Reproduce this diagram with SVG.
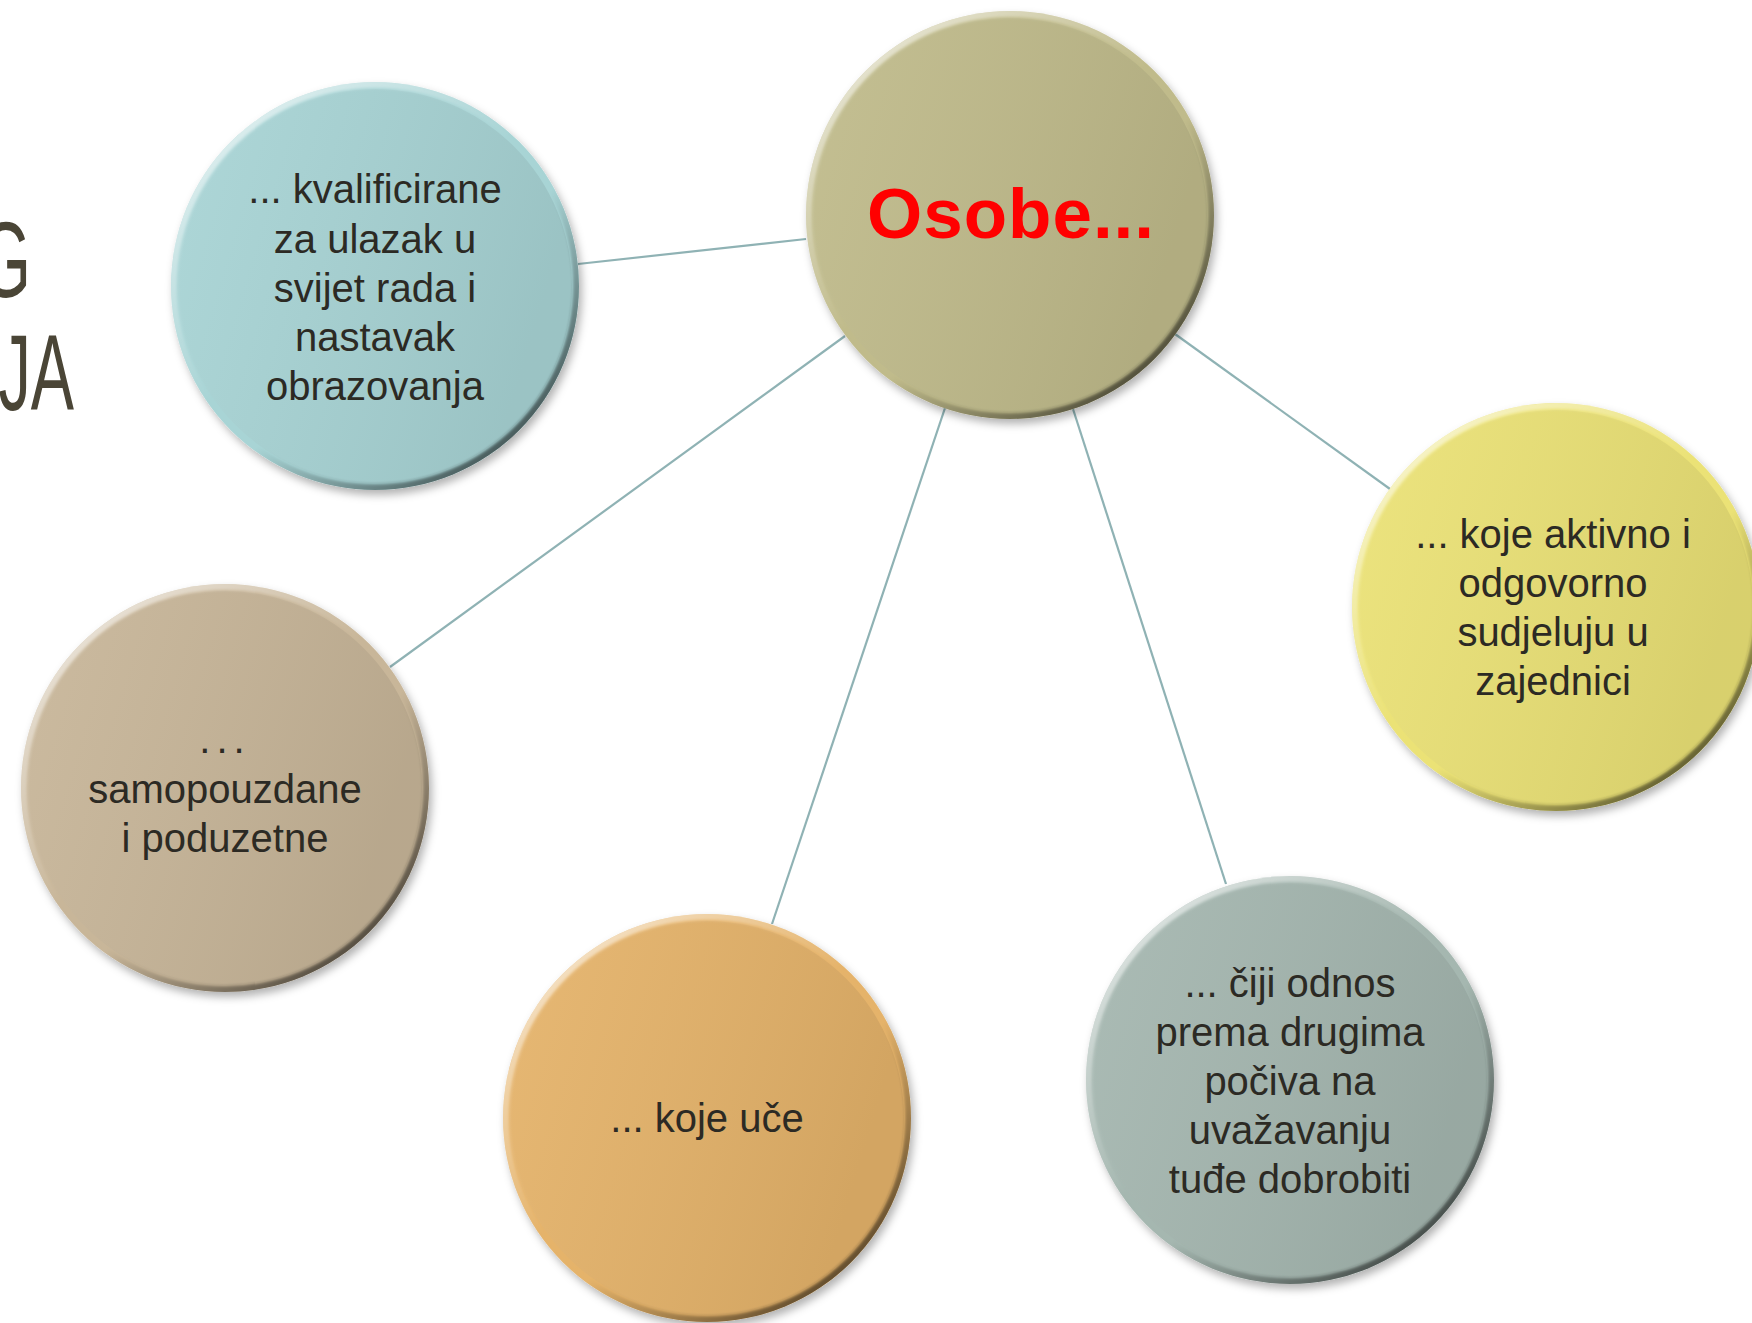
<svg xmlns="http://www.w3.org/2000/svg" width="1752" height="1323" viewBox="0 0 1752 1323">
<style>
.lbl{font-family:"Liberation Sans",Arial,sans-serif;font-size:40px;fill:#2c2a24;text-anchor:middle}
.title{font-family:"Liberation Sans",Arial,sans-serif;font-size:108px;fill:#4a4536;text-anchor:end}
.conn{stroke:#8fb2b4;stroke-width:2.2;fill:none}
</style>
<defs>
<filter id="shadow" x="-20%" y="-20%" width="140%" height="140%">
<feDropShadow dx="3" dy="5" stdDeviation="4" flood-color="#000" flood-opacity="0.3"/>
</filter>
<filter id="soft"><feGaussianBlur stdDeviation="1.8"/></filter>
<linearGradient id="rim" x1="0.15" y1="0.1" x2="0.85" y2="0.9">
<stop offset="0" stop-color="#fff" stop-opacity="0.6"/>
<stop offset="0.45" stop-color="#fff" stop-opacity="0"/>
<stop offset="0.6" stop-color="#000" stop-opacity="0"/>
<stop offset="1" stop-color="#000" stop-opacity="0.6"/>
</linearGradient>
<linearGradient id="sheen" x1="0" y1="0" x2="1" y2="0.3">
<stop offset="0" stop-color="#fff" stop-opacity="0.06"/>
<stop offset="1" stop-color="#000" stop-opacity="0.08"/>
</linearGradient>
</defs>
<rect width="1752" height="1323" fill="#fff"/>

<g id="title">
<text class="title" transform="translate(31,297) scale(0.6,1)">G</text>
<text class="title" transform="translate(74,410) scale(0.6,1)">JA</text>
</g>

<g id="connectors">
<line class="conn" x1="806" y1="239" x2="578" y2="264"/>
<line class="conn" x1="845" y1="336" x2="390" y2="667"/>
<line class="conn" x1="945" y1="408" x2="772" y2="924"/>
<line class="conn" x1="1073" y1="409" x2="1226" y2="884"/>
<line class="conn" x1="1175" y1="334" x2="1390" y2="489"/>
</g>

<g id="node-center">
<circle cx="1010" cy="215" r="204" fill="#c0bb8b" filter="url(#shadow)"/>
<circle cx="1010" cy="215" r="204" fill="url(#rim)"/>
<circle cx="1010" cy="215" r="198" fill="#c0bb8b" filter="url(#soft)"/>
<circle cx="1010" cy="215" r="197" fill="url(#sheen)"/>
<text x="1011" y="238" font-family="'Liberation Sans',Arial,sans-serif" font-size="71" font-weight="bold" fill="#ff0000" text-anchor="middle" letter-spacing="1">Osobe...</text>
</g>

<g id="node-kvalificirane">
<circle cx="375" cy="286" r="204" fill="#a8d4d5" filter="url(#shadow)"/>
<circle cx="375" cy="286" r="204" fill="url(#rim)"/>
<circle cx="375" cy="286" r="198" fill="#a8d4d5" filter="url(#soft)"/>
<circle cx="375" cy="286" r="197" fill="url(#sheen)"/>
<text class="lbl" x="375" y="203">... kvalificirane</text>
<text class="lbl" x="375" y="253">za ulazak u</text>
<text class="lbl" x="375" y="302">svijet rada i</text>
<text class="lbl" x="375" y="351">nastavak</text>
<text class="lbl" x="375" y="400">obrazovanja</text>
</g>

<g id="node-samopouzdane">
<circle cx="225" cy="788" r="204" fill="#c8b699" filter="url(#shadow)"/>
<circle cx="225" cy="788" r="204" fill="url(#rim)"/>
<circle cx="225" cy="788" r="198" fill="#c8b699" filter="url(#soft)"/>
<circle cx="225" cy="788" r="197" fill="url(#sheen)"/>
<text class="lbl" x="225" y="753" letter-spacing="6">...</text>
<text class="lbl" x="225" y="803">samopouzdane</text>
<text class="lbl" x="225" y="852">i poduzetne</text>
</g>

<g id="node-uce">
<circle cx="707" cy="1118" r="204" fill="#e5b36a" filter="url(#shadow)"/>
<circle cx="707" cy="1118" r="204" fill="url(#rim)"/>
<circle cx="707" cy="1118" r="198" fill="#e5b36a" filter="url(#soft)"/>
<circle cx="707" cy="1118" r="197" fill="url(#sheen)"/>
<text class="lbl" x="707" y="1132">... koje uče</text>
</g>

<g id="node-odnos">
<circle cx="1290" cy="1080" r="204" fill="#a5b7b0" filter="url(#shadow)"/>
<circle cx="1290" cy="1080" r="204" fill="url(#rim)"/>
<circle cx="1290" cy="1080" r="198" fill="#a5b7b0" filter="url(#soft)"/>
<circle cx="1290" cy="1080" r="197" fill="url(#sheen)"/>
<text class="lbl" x="1290" y="997">... čiji odnos</text>
<text class="lbl" x="1290" y="1046">prema drugima</text>
<text class="lbl" x="1290" y="1095">počiva na</text>
<text class="lbl" x="1290" y="1144">uvažavanju</text>
<text class="lbl" x="1290" y="1193">tuđe dobrobiti</text>
</g>

<g id="node-zajednici">
<circle cx="1556" cy="607" r="204" fill="#ebe276" filter="url(#shadow)"/>
<circle cx="1556" cy="607" r="204" fill="url(#rim)"/>
<circle cx="1556" cy="607" r="198" fill="#ebe276" filter="url(#soft)"/>
<circle cx="1556" cy="607" r="197" fill="url(#sheen)"/>
<text class="lbl" x="1553" y="548">... koje aktivno i</text>
<text class="lbl" x="1553" y="597">odgovorno</text>
<text class="lbl" x="1553" y="646">sudjeluju u</text>
<text class="lbl" x="1553" y="695">zajednici</text>
</g>
</svg>
